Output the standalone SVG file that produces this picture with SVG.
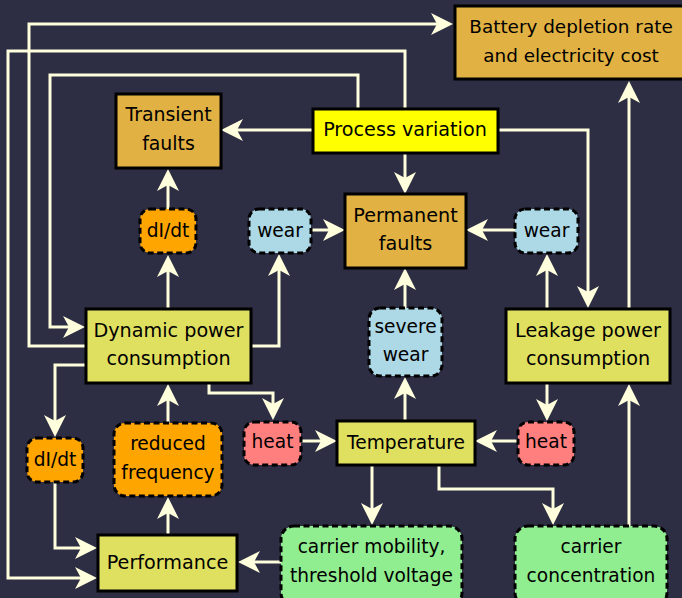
<svg xmlns="http://www.w3.org/2000/svg" width="682" height="598" viewBox="0 0 682 598">
<defs>
<style>
.n rect{stroke:#000;stroke-width:3}
.d rect{stroke:#000;stroke-width:3;stroke-dasharray:6,3.5}
text{font-family:"DejaVu Sans","Liberation Sans",sans-serif;font-size:18.6px;fill:#000;text-anchor:middle}
.big text{font-size:19.2px}
.gold{fill:#e1b143}
.khaki{fill:#e0e060}
.yel{fill:#ffff00}
.org{fill:#ffa500}
.blue{fill:#add8e6}
.red{fill:#ff7f7f}
.grn{fill:#90ee90}
#edges path{fill:none;stroke:#ffffdd;stroke-width:3;marker-end:url(#ah)}
</style>
<marker id="ah" viewBox="-9 -12 24 24" refX="0" refY="0" markerWidth="24" markerHeight="24" markerUnits="userSpaceOnUse" orient="auto">
<path d="M14,0 L-8,-11 L-2,0 L-8,11 Z" fill="#ffffdd"/>
</marker>
</defs>
<rect x="0" y="0" width="682" height="598" fill="#2d2d43"/>
<g id="edges">
<path d="M313,130 H235"/>
<path d="M405,154 V180"/>
<path d="M497,130 H588 V294"/>
<path d="M358,109 V75 H50 V327 H71"/>
<path d="M405,109 V51 H8 V578 H83"/>
<path d="M86,346 H29 V24 H439"/>
<path d="M629,309 V95"/>
<path d="M168,309 V269"/>
<path d="M168,209 V183"/>
<path d="M251,346 H279 V268"/>
<path d="M311,230 H331"/>
<path d="M515,230 H480"/>
<path d="M547,309 V268"/>
<path d="M405,308 V282"/>
<path d="M405,421 V391"/>
<path d="M209,384 V393 H273 V406"/>
<path d="M301,441 H323"/>
<path d="M518,441 H489"/>
<path d="M547,384 V407"/>
<path d="M86,365 H55 V423"/>
<path d="M55,482 V548 H83"/>
<path d="M168,535 V511"/>
<path d="M168,423 V398"/>
<path d="M281,562 H252"/>
<path d="M372,466 V511"/>
<path d="M439,466 V489 H553 V511"/>
<path d="M629,526 V398"/>
</g>
<g id="battery" class="n"><rect class="gold" x="455" y="6" width="232" height="73"/><text x="571" y="33" style="font-size:18.4px">Battery depletion rate</text><text x="571" y="62" style="font-size:18.4px">and electricity cost</text></g>
<g id="process" class="n big"><rect class="yel" x="313" y="109" width="185" height="44"/><text x="405" y="136">Process variation</text></g>
<g id="transient" class="n"><rect class="gold" x="116" y="94" width="105" height="74"/><text x="168.5" y="121" style="font-size:18.9px">Transient</text><text x="168.5" y="150" style="font-size:18.9px">faults</text></g>
<g id="permanent" class="n big"><rect class="gold" x="345" y="194" width="121" height="74"/><text x="405.5" y="222">Permanent</text><text x="405.5" y="250">faults</text></g>
<g id="didt1" class="d"><rect class="org" x="140" y="209" width="56" height="44" rx="10"/><text x="168" y="237">dI/dt</text></g>
<g id="wear1" class="d"><rect class="blue" x="249" y="209" width="62" height="44" rx="10"/><text x="280" y="237">wear</text></g>
<g id="wear2" class="d"><rect class="blue" x="515" y="209" width="63" height="44" rx="10"/><text x="546.5" y="237">wear</text></g>
<g id="dynamic" class="n big"><rect class="khaki" x="86" y="309" width="165" height="74"/><text x="168.5" y="337">Dynamic power</text><text x="168.5" y="365">consumption</text></g>
<g id="leakage" class="n big"><rect class="khaki" x="506" y="309" width="164" height="74"/><text x="588" y="337">Leakage power</text><text x="588" y="365">consumption</text></g>
<g id="severe" class="d"><rect class="blue" x="369" y="308" width="73" height="68" rx="11"/><text x="405.5" y="333">severe</text><text x="405.5" y="361">wear</text></g>
<g id="temperature" class="n"><rect class="khaki" x="337" y="421" width="138" height="44"/><text x="406" y="449">Temperature</text></g>
<g id="heat1" class="d"><rect class="red" x="244" y="422" width="57" height="43" rx="10"/><text x="272.5" y="448">heat</text></g>
<g id="heat2" class="d"><rect class="red" x="518" y="422" width="56" height="43" rx="10"/><text x="546" y="448">heat</text></g>
<g id="didt2" class="d"><rect class="org" x="27" y="438" width="56" height="44" rx="10"/><text x="55" y="466">dI/dt</text></g>
<g id="reduced" class="d"><rect class="org" x="114" y="423" width="108" height="73" rx="11"/><text x="168" y="450">reduced</text><text x="168" y="479">frequency</text></g>
<g id="performance" class="n big"><rect class="khaki" x="98" y="535" width="139" height="56"/><text x="167.5" y="569">Performance</text></g>
<g id="mobility" class="d"><rect class="grn" x="281" y="526" width="181" height="80" rx="13"/><text x="371.5" y="553">carrier mobility,</text><text x="371.5" y="582">threshold voltage</text></g>
<g id="concentration" class="d"><rect class="grn" x="515" y="526" width="152" height="80" rx="13"/><text x="591" y="553">carrier</text><text x="591" y="582">concentration</text></g>
</svg>
